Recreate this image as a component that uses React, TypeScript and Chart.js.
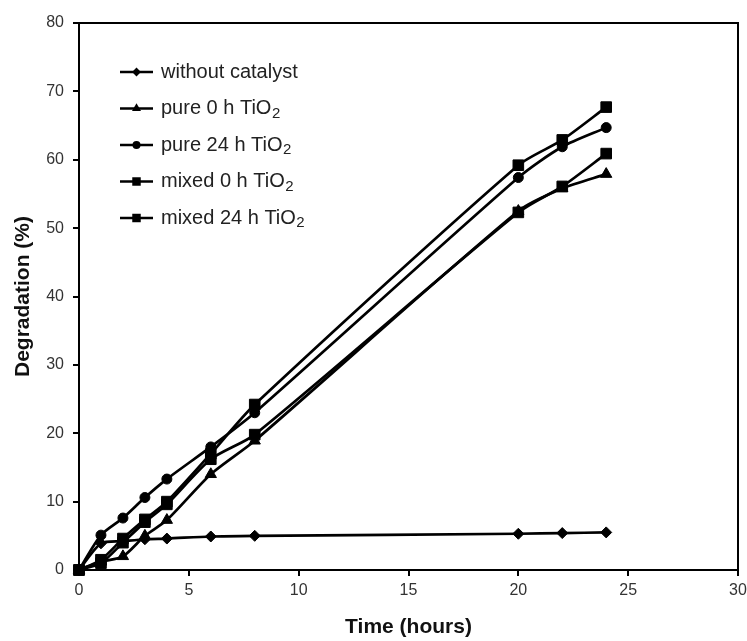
import React, { useEffect, useRef } from "react";
import { Chart, registerables } from "chart.js";

Chart.register(...registerables);

const timeHours = [0, 1, 2, 3, 4, 6, 8, 20, 22, 24];
const seriesLabels = [
  "without catalyst",
  "pure 0 h TiO₂",
  "pure 24 h TiO₂",
  "mixed 0 h TiO₂",
  "mixed 24 h TiO₂",
];
const withoutCatalyst = [0, 3.9, 4.2, 4.5, 4.6, 4.9, 5.0, 5.3, 5.4, 5.5];
const pure0h = [0, 1.2, 2.0, 5.0, 7.3, 14.0, 18.9, 52.5, 55.8, 57.9];
const pure24h = [0, 5.1, 7.6, 10.6, 13.3, 18.0, 23.0, 57.4, 61.9, 64.7];
const mixed0h = [0, 1.0, 4.0, 7.0, 9.6, 16.2, 19.8, 52.3, 56.1, 60.9];
const mixed24h = [0, 1.5, 4.6, 7.4, 10.0, 17.0, 24.2, 59.2, 62.9, 67.7];
const xTickValues = [0, 5, 10, 15, 20, 25, 30];
const yTickValues = [0, 10, 20, 30, 40, 50, 60, 70, 80];

const FONT = "'Liberation Sans', Arial, sans-serif";
const pointStyles = ["rectRot", "triangle", "circle", "rect", "rect"];
const pointRadii = [5.5, 6.5, 5, 7.5, 7.5];

function drawMarker(ctx: CanvasRenderingContext2D, style: string, x: number, y: number, r: number) {
  ctx.beginPath();
  if (style === "rectRot") {
    ctx.moveTo(x, y - r);
    ctx.lineTo(x + r, y);
    ctx.lineTo(x, y + r);
    ctx.lineTo(x - r, y);
    ctx.closePath();
  } else if (style === "triangle") {
    const h = r * 1.5;
    const w = r * Math.sqrt(3) / 2;
    ctx.moveTo(x, y - r);
    ctx.lineTo(x + w, y + h - r);
    ctx.lineTo(x - w, y + h - r);
    ctx.closePath();
  } else if (style === "circle") {
    ctx.arc(x, y, r, 0, Math.PI * 2);
  } else {
    const s = r * Math.SQRT1_2;
    ctx.rect(x - s, y - s, 2 * s, 2 * s);
  }
  ctx.fill();
}

const framePlugin = {
  id: "frame",
  beforeDatasetsDraw(chart: any) {
    const { ctx, chartArea } = chart;
    ctx.save();
    ctx.strokeStyle = "#000";
    ctx.lineWidth = 2;
    ctx.strokeRect(chartArea.left, chartArea.top, chartArea.right - chartArea.left, chartArea.bottom - chartArea.top);
    ctx.restore();
  },
};

const legendPlugin = {
  id: "innerLegend",
  afterDraw(chart: any) {
    const { ctx } = chart;
    ctx.save();
    const x0 = 120;
    const x1 = 153;
    const tx = 161;
    seriesLabels.forEach((label, i) => {
      const y = 72 + i * 36.5;
      ctx.strokeStyle = "#000";
      ctx.fillStyle = "#000";
      ctx.lineWidth = 2.5;
      ctx.beginPath();
      ctx.moveTo(x0, y);
      ctx.lineTo(x1, y);
      ctx.stroke();
      drawMarker(ctx, pointStyles[i], (x0 + x1) / 2, y, pointRadii[i] * 0.8);
      ctx.fillStyle = "#222";
      ctx.textBaseline = "middle";
      ctx.textAlign = "left";
      const parts = label.split("₂");
      ctx.font = `20px ${FONT}`;
      ctx.fillText(parts[0], tx, y);
      if (parts.length > 1) {
        const w = ctx.measureText(parts[0]).width;
        ctx.font = `15px ${FONT}`;
        ctx.fillText("2", tx + w + 0.5, y + 5);
      }
    });
    ctx.restore();
  },
};

export default function App() {
  const ref = useRef<HTMLCanvasElement | null>(null);
  useEffect(() => {
    if (!ref.current) return;
    const seriesValues = [withoutCatalyst, pure0h, pure24h, mixed0h, mixed24h];
    const chart = new Chart(ref.current, {
      type: "line",
      data: {
        datasets: seriesValues.map((vals, i) => ({
          label: seriesLabels[i],
          data: timeHours.map((t, j) => ({ x: t, y: vals[j] })),
          borderColor: "#000",
          backgroundColor: "#000",
          pointBackgroundColor: "#000",
          pointBorderColor: "#000",
          pointBorderWidth: 1,
          borderWidth: 2.7,
          pointStyle: pointStyles[i] as any,
          pointRadius: pointRadii[i],
          tension: 0.25,
          clip: false as any,
        })),
      },
      options: {
        animation: false,
        responsive: false,
        maintainAspectRatio: false,
        layout: { padding: { top: 23, right: 9, left: 0, bottom: 0 } },
        plugins: { legend: { display: false }, tooltip: { enabled: false } },
        scales: {
          x: {
            type: "linear",
            min: 0,
            max: 30,
            afterBuildTicks: (s: any) => {
              s.ticks = xTickValues.map((v) => ({ value: v }));
            },
            ticks: { color: "#333", font: { family: FONT, size: 16 }, padding: 5, maxRotation: 0 },
            grid: { drawOnChartArea: false, drawTicks: true, tickLength: 6, color: "#000", lineWidth: 2 },
            border: { color: "#000", width: 2 },
            title: {
              display: true,
              text: "Time (hours)",
              color: "#111",
              font: { family: FONT, size: 21, weight: "bold" },
              padding: { top: 0, bottom: 1 },
            },
            afterFit: (s: any) => {
              s.height = 71;
              s.paddingRight = 0;
              s.paddingLeft = 0;
            },
          },
          y: {
            type: "linear",
            min: 0,
            max: 80,
            afterBuildTicks: (s: any) => {
              s.ticks = yTickValues.map((v) => ({ value: v }));
            },
            ticks: { color: "#333", font: { family: FONT, size: 16 }, padding: 9 },
            grid: { drawOnChartArea: false, drawTicks: true, tickLength: 6, color: "#000", lineWidth: 2 },
            border: { color: "#000", width: 2 },
            title: {
              display: true,
              text: "Degradation (%)",
              color: "#111",
              font: { family: FONT, size: 21, weight: "bold" },
              padding: { top: 11, bottom: 0 },
            },
            afterFit: (s: any) => {
              s.width = 79;
            },
          },
        },
      } as any,
      plugins: [framePlugin, legendPlugin],
    });
    return () => chart.destroy();
  }, []);
  return (
    <div style={{ position: "absolute", left: 0, top: 0, width: 747, height: 641, background: "#fff" }}>
      <canvas ref={ref} width={747} height={641} style={{ display: "block" }} />
    </div>
  );
}
